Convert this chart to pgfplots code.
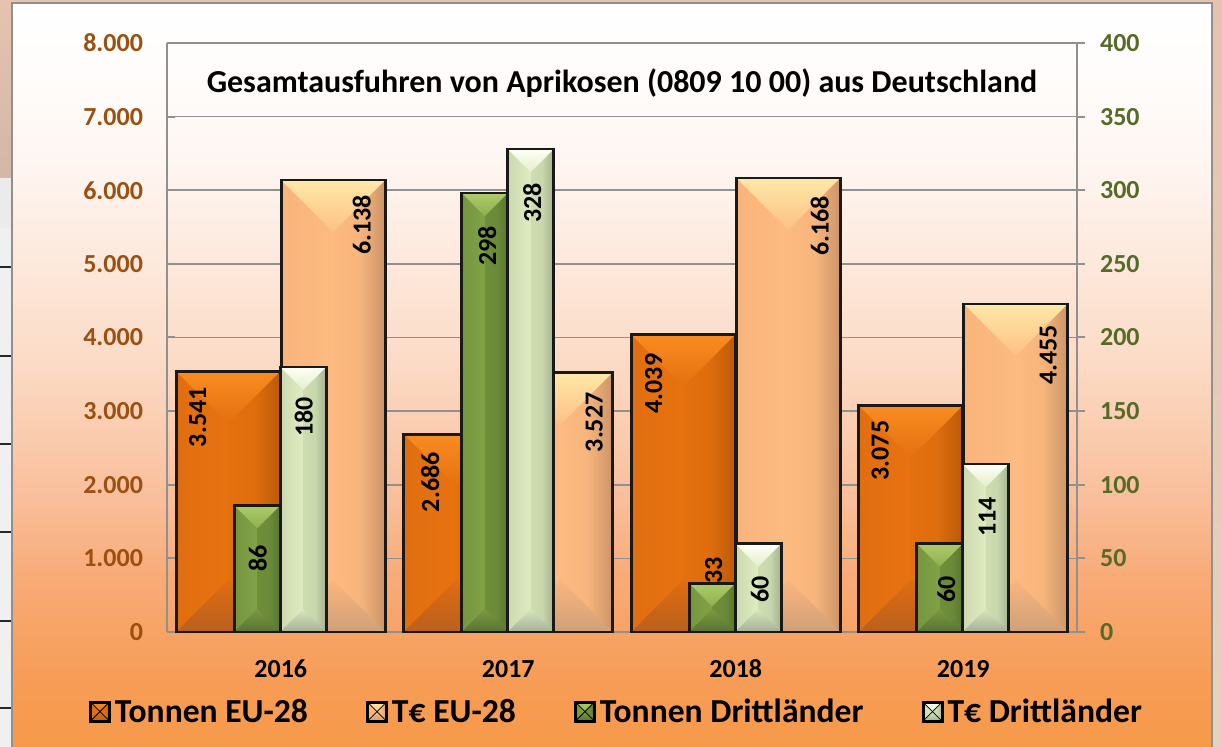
\documentclass[border=0pt]{standalone}
\usepackage{fontspec}
\setmainfont{Carlito}
\usepackage{pgfplots}
\pgfplotsset{compat=1.18}

% panel and surroundings
\definecolor{pa0}{HTML}{F69A4A}\definecolor{pa1}{HTML}{F79C55}\definecolor{pa2}{HTML}{F8AB78}
\definecolor{pa3}{HTML}{F9BE9A}\definecolor{pa4}{HTML}{FCDCC8}\definecolor{pa5}{HTML}{FEF5F0}
\definecolor{pa6}{HTML}{FFFBF9}
\definecolor{stripA}{HTML}{E6C3AE}\definecolor{stripB}{HTML}{D2B8A8}\definecolor{stripC}{HTML}{E4D2C0}
\definecolor{gridc}{HTML}{909090}
\definecolor{leftc}{HTML}{9A5010}
\definecolor{rightc}{HTML}{566B28}
% bar faces: T top, L left, R right, B bottom
\definecolor{orTA}{HTML}{FA8C22}\definecolor{orTB}{HTML}{E4700E}
\definecolor{orLA}{HTML}{E06E10}\definecolor{orLB}{HTML}{E87210}
\definecolor{orRA}{HTML}{E4700E}\definecolor{orRB}{HTML}{BA5A08}
\definecolor{orBA}{HTML}{E06C10}\definecolor{orBB}{HTML}{B8601E}
\definecolor{peTA}{HTML}{FFE8A8}\definecolor{peTB}{HTML}{FDC084}
\definecolor{peLA}{HTML}{F9B47C}\definecolor{peLB}{HTML}{FDBB80}
\definecolor{peRA}{HTML}{FDBA80}\definecolor{peRB}{HTML}{CC9468}
\definecolor{peBA}{HTML}{FAB67E}\definecolor{peBB}{HTML}{D0A078}
\definecolor{grTA}{HTML}{ACCC6C}\definecolor{grTB}{HTML}{90B050}
\definecolor{grLA}{HTML}{76963E}\definecolor{grLB}{HTML}{82A248}
\definecolor{grRA}{HTML}{6E8E3A}\definecolor{grRB}{HTML}{587630}
\definecolor{grBA}{HTML}{7A9A40}\definecolor{grBB}{HTML}{587234}
\definecolor{lgTA}{HTML}{FFFFF6}\definecolor{lgTB}{HTML}{E4EECC}
\definecolor{lgLA}{HTML}{CCD9B0}\definecolor{lgLB}{HTML}{E0ECC0}
\definecolor{lgRA}{HTML}{CEDCB0}\definecolor{lgRB}{HTML}{A4B290}
\definecolor{lgBA}{HTML}{D8E6BA}\definecolor{lgBB}{HTML}{A4B098}

\pgfdeclareverticalshading{panelshade}{100bp}{
  color(0bp)=(pa0); color(25bp)=(pa0); color(29.2bp)=(pa1); color(36.6bp)=(pa2);
  color(41.6bp)=(pa3); color(51.4bp)=(pa4); color(63.8bp)=(pa5); color(68.5bp)=(pa6);
  color(75bp)=(white); color(100bp)=(white)}

% faces of a bar: {prefix}{top middle}{foot middle}{shift}{half width}
\newcommand{\faces}[5]{%
  \shade[left color=#1LA,right color=#1LB] ([xshift=#4-#5]#3) rectangle ([xshift=#4]#2);
  \shade[left color=#1RA,right color=#1RB,middle color=#1RA!88!#1RB] ([xshift=#4]#3) rectangle ([xshift=#4+#5]#2);
  \shade[top color=#1TA,bottom color=#1TB] ([xshift=#4-#5]#2)--([xshift=#4+#5]#2)--([xshift=#4,yshift=-#5]#2)--cycle;
  \shade[top color=#1BA,bottom color=#1BB] ([xshift=#4-#5]#3)--([xshift=#4+#5]#3)--([xshift=#4,yshift=#5]#3)--cycle;
}

\pgfplotsset{
  % label offset from the middle of the bar group, in image pixels
  lab/.style 2 args={nodes near coords,
    every node near coord/.append style={xshift=(#1)*0.5pt,yshift=(#2)*0.5pt,rotate=90,anchor=center,
      font=\fontsize{13}{13}\selectfont\bfseries,text=black}},
  barbase/.style={ybar,forget plot,draw=black!90,fill=none,line width=1.3pt},
  common/.style={scale only axis,width=455pt,height=294.5pt,at={(83.5pt,57.5pt)},anchor=south west,
    xmin=-0.5,xmax=3.5,clip=false,scaled y ticks=false,
    /pgf/number format/.cd,1000 sep={.},assume math mode=true,/pgfplots/.cd,
    axis line style={draw=gridc,line width=0.8pt},
    ticklabel style={font=\fontsize{13}{13}\selectfont\bfseries}},
  legbox/.style={legend image code/.code={%
    \faces{#1}{4.75pt,5pt}{4.75pt,-4.5pt}{0pt}{4.75pt}
    \draw[black,line width=1.5pt] (0pt,-4.5pt) rectangle (9.5pt,5pt);}},
}
% bars: {x}{value}{label dx}{label dy}
\newcommand{\eubar}[4]{\faces{or}{axis cs:#1,#2}{axis cs:#1,0}{-26.25pt}{26pt}
  \addplot[barbase,bar width=52pt,bar shift=-26.25pt,lab={#3}{#4}] coordinates {(#1,#2)};}
\newcommand{\eevbar}[4]{\faces{pe}{axis cs:#1,#2}{axis cs:#1,0}{26.25pt}{26pt}
  \addplot[barbase,bar width=52pt,bar shift=26.25pt,lab={#3}{#4}] coordinates {(#1,#2)};}
\newcommand{\dtbar}[4]{\faces{gr}{axis cs:#1,#2}{axis cs:#1,0}{-11.75pt}{11.5pt}
  \addplot[barbase,bar width=23pt,bar shift=-11.75pt,lab={#3}{#4}] coordinates {(#1,#2)};}
\newcommand{\devbar}[4]{\faces{lg}{axis cs:#1,#2}{axis cs:#1,0}{11.25pt}{11.5pt}
  \addplot[barbase,bar width=23pt,bar shift=11.25pt,lab={#3}{#4}] coordinates {(#1,#2)};}

\begin{document}
\begin{tikzpicture}
\begin{scope}[x=0.5pt,y=-0.5pt,yshift=373.5pt]
  \path[use as bounding box] (0,0) rectangle (1222,747);
  \fill[stripA] (0,0) rectangle (1222,3);
  \shade[top color=stripA,bottom color=stripB] (0,0) rectangle (12,178);
  \fill[white!94!black] (0,178) rectangle (12,747);
  \fill[black!8] (0,178) rectangle (12,228);
  \foreach \y in {267,356,444,532,621,708}{\fill[black!85] (0,\y-1) rectangle (12,\y+1);}
  \shade[top color=stripA,bottom color=stripC] (1212,0) rectangle (1222,747);
  \shade[shading=panelshade] (12,3) rectangle (1212,747);
  \begin{scope}
    \clip (0,0) rectangle (1222,747);
    \draw[gridc,line width=1.2pt] (12,3) rectangle (1212,760);
  \end{scope}
\end{scope}

\begin{axis}[common,
    ymin=0,ymax=8000,ytick={0,1000,...,8000},
    axis y line*=left,axis x line*=bottom,
    xtick={0,1,2,3},xticklabels={2016,2017,2018,2019},
    major x tick style={draw=none},
    xticklabel style={yshift=-10pt,text height=9pt,text depth=0pt},
    tick align=inside,major tick length=4pt,
    major y tick style={draw=gridc,line width=1pt},
    yticklabel style={text=leftc,xshift=-8.5pt},
    ymajorgrids,grid style={draw=gridc,line width=0.8pt},
    title={Gesamtausfuhren von Aprikosen (0809 10 00) aus Deutschland},
    title style={at={(0.5,0.934)},anchor=center,yshift=-6.5pt,font=\fontsize{16}{16}\selectfont\bfseries},
  ]
  % Tonnen EU-28
  \eubar{0}{3541}{-83}{-46}
  \eubar{1}{2686}{-78}{-48}
  \eubar{2}{4039}{-82}{-49}
  \eubar{3}{3075}{-83}{-45}
  % T€ EU-28
  \eevbar{0}{6138}{81}{-45}
  \eevbar{1}{3527}{86}{-50}
  \eevbar{2}{6168}{84}{-48}
  \eevbar{3}{4455}{85}{-51}
\end{axis}

\begin{axis}[common,
    ymin=0,ymax=400,ytick={0,50,...,400},
    axis y line*=right,axis x line=none,
    tick align=outside,major tick length=4pt,
    major y tick style={draw=gridc,line width=1pt},
    yticklabel style={text=rightc,anchor=west,xshift=4pt},
    legend columns=4,
    legend style={at={(0.495,-0.136)},anchor=center,draw=none,fill=none,
      font=\fontsize{16.8}{16.8}\selectfont\bfseries,
      /tikz/every even column/.append style={column sep=27pt}},
  ]
  % Tonnen Drittlaender
  \dtbar{0}{86}{-23}{-53}
  \dtbar{1}{298}{-21}{-53}
  \dtbar{2}{33}{-22}{13}
  \dtbar{3}{60}{-17}{-46}
  % T€ Drittlaender
  \devbar{0}{180}{23}{-50}
  \devbar{1}{328}{24}{-54}
  \devbar{2}{60}{24}{-46}
  \devbar{3}{114}{24}{-53}
  \addlegendimage{legbox=or}\addlegendentry{Tonnen EU-28}
  \addlegendimage{legbox=pe}\addlegendentry{T€ EU-28}
  \addlegendimage{legbox=gr}\addlegendentry{Tonnen Drittländer}
  \addlegendimage{legbox=lg}\addlegendentry{T€ Drittländer}
\end{axis}
\end{tikzpicture}
\end{document}
